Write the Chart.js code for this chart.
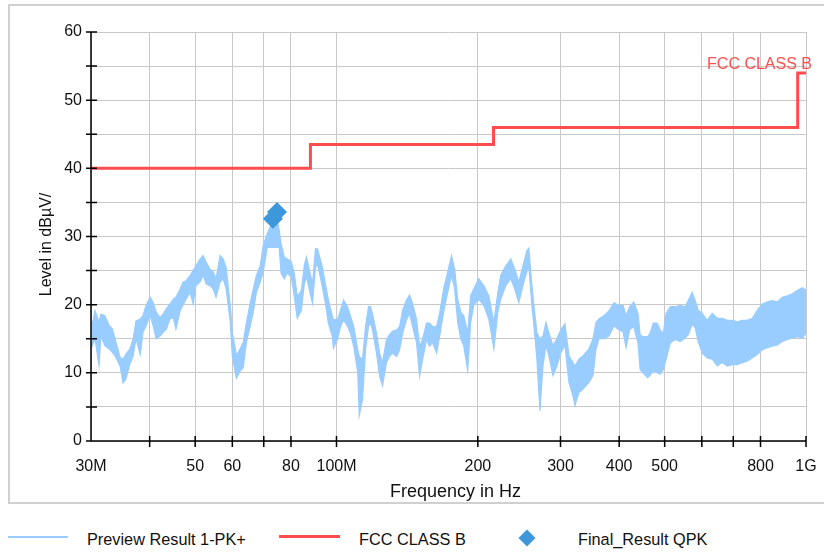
<!DOCTYPE html>
<html>
<head>
<meta charset="utf-8">
<script src="https://cdn.jsdelivr.net/npm/chart.js@4/dist/chart.umd.min.js"></script>
<style>
  body { margin: 0; background: #fff; font-family: "Liberation Sans", Arial, sans-serif; }
  #wrap { position: relative; width: 824px; height: 552px; overflow: hidden; }
  #frame { position: absolute; left: 8px; top: 4px; width: 840px; height: 500px; border: 2px solid #d0d0d0; box-sizing: border-box; }
  #box { position: absolute; left: 0; top: 0; width: 824px; height: 510px; }
  .leg { position: absolute; top: 529px; font-size: 16.3px; line-height: 20px; color: #111; white-space: nowrap; }
  .sw { position: absolute; }
</style>
</head>
<body>
<div id="wrap">
  <div id="frame"></div>
  <div id="box"><canvas id="chart"></canvas></div>
  <div class="sw" style="left:8px; top:536px; width:60px; height:1.5px; background:#99ccff;"></div>
  <div class="leg" style="left:87px;">Preview Result 1-PK+</div>
  <div class="sw" style="left:279px; top:535px; width:61px; height:3px; background:#ff4d4d;"></div>
  <div class="leg" style="left:359px;">FCC CLASS B</div>
  <div class="sw" style="left:521px; top:532px; width:12px; height:12px; background:#3d97da; transform:rotate(45deg);"></div>
  <div class="leg" style="left:578px;">Final_Result QPK</div>
</div>
<script>
// frequency in MHz
const freqs = [
  30.0, 30.6, 31.2, 31.5, 32.1, 32.8, 33.3, 33.75, 34.6, 35.1,
  35.6, 36.3, 36.9, 37.4, 38.2, 38.7, 39.3, 40.1, 40.7, 41.3,
  42.1, 42.7, 43.4, 44.2, 44.9, 45.5, 46.45, 47.1, 47.8, 48.8,
  49.5, 50.2, 51.2, 52.0, 52.8, 53.8, 54.6, 55.4, 56.5, 57.4,
  58.2, 59.4, 60.0, 60.9, 61.2, 62.4, 63.3, 64.3, 65.5, 66.5,
  67.5, 68.8, 69.8, 71.2, 72.6, 73.7, 74.8, 75.5, 76.2, 77.4,
  78.5, 80.1, 81.3, 82.5, 84.2, 85.4, 86.3, 87.6, 88.9, 90.2,
  91.1, 93.3, 94.7, 96.1, 98.0, 98.5, 100.5, 102.0, 103.5, 105.6,
  107.1, 108.8, 111.0, 111.8, 113.6, 115.3, 117.0, 118.1, 119.3, 121.7,
  123.5, 125.3, 127.8, 129.7, 131.6, 134.3, 136.3, 138.3, 141.0, 143.1,
  145.2, 148.1, 150.3, 152.5, 155.5, 157.8, 160.2, 163.4, 165.8, 169.1,
  172.5, 175.8, 178.5, 181.2, 183.9, 186.6, 190.3, 193.1, 196.0, 200.9,
  205.9, 211.0, 216.4, 220.6, 223.8, 229.4, 235.1, 239.7, 244.5, 250.6,
  254.3, 256.8, 260.7, 263.3, 267.2, 271.2, 275.3, 279.3, 283.4, 289.0,
  294.8, 300.6, 306.6, 312.7, 318.9, 322.0, 328.4, 335.0, 339.9, 345.0,
  351.8, 357.1, 362.4, 371.4, 380.6, 390.1, 397.9, 407.7, 413.8, 421.0,
  429.6, 438.7, 443.3, 449.9, 459.8, 465.5, 472.8, 482.0, 489.0, 496.5,
  503.6, 514.0, 526.4, 539.5, 552.9, 561.2, 572.2, 580.7, 589.4, 601.1,
  616.0, 631.4, 647.1, 663.1, 679.6, 696.5, 713.8, 731.6, 749.8, 768.5,
  787.7, 807.2, 827.3, 847.9, 869.0, 890.6, 912.8, 935.5, 958.8, 982.6,
  1000
];
// upper edge of the PK+ trace (dBµV)
const peakHigh = [
  16.2, 19.1, 17.5, 18.6, 18.4, 16.9, 16.5, 15.0, 12.3, 12.0,
  12.7, 13.5, 15.0, 17.6, 17.9, 18.4, 19.9, 21.1, 20.3, 18.9,
  18.1, 18.6, 19.4, 20.1, 20.8, 21.1, 22.3, 23.3, 23.5, 24.3,
  25.0, 25.7, 26.7, 27.2, 26.2, 25.2, 24.8, 23.8, 27.2, 26.7,
  25.5, 19.9, 15.9, 13.5, 12.5, 13.6, 14.5, 17.4, 20.3, 22.3,
  24.3, 25.7, 28.7, 30.4, 31.8, 32.3, 32.3, 30.9, 28.9, 27.0,
  26.7, 26.3, 24.6, 21.2, 22.1, 25.8, 27.0, 25.0, 23.1, 28.2,
  28.2, 25.5, 23.1, 20.7, 18.3, 17.8, 17.8, 19.2, 20.7, 19.7,
  18.3, 16.8, 13.4, 12.4, 11.9, 16.8, 19.7, 19.7, 18.7, 15.8,
  12.9, 11.5, 14.9, 15.6, 16.1, 16.3, 16.8, 19.2, 20.7, 21.4,
  20.2, 17.8, 13.9, 14.9, 17.3, 17.3, 16.8, 16.8, 18.7, 22.3,
  24.8, 27.2, 25.2, 20.8, 18.9, 18.4, 15.9, 21.3, 22.3, 23.8,
  22.8, 21.3, 17.4, 21.8, 24.3, 25.7, 26.7, 25.2, 23.3, 26.2,
  27.9, 28.3, 22.8, 19.9, 15.9, 15.0, 15.4, 17.4, 15.9, 14.0,
  15.0, 16.4, 17.2, 12.5, 11.5, 11.0, 12.0, 12.5, 13.0, 13.5,
  15.0, 17.4, 17.9, 18.4, 19.1, 20.3, 19.9, 19.9, 18.4, 19.7,
  20.4, 18.7, 15.6, 15.3, 15.3, 15.8, 17.3, 17.3, 16.3, 15.8,
  18.7, 19.7, 19.7, 19.9, 19.7, 20.6, 21.8, 20.6, 19.2, 18.7,
  17.7, 18.7, 18.0, 18.0, 17.7, 17.7, 17.5, 17.7, 17.7, 18.0,
  19.2, 20.1, 20.4, 20.6, 20.4, 21.1, 21.3, 21.6, 22.1, 22.5,
  22.1
];
// lower edge of the PK+ trace (dBµV)
const peakLow = [
  13.5, 15.0, 11.1, 15.4, 14.0, 13.5, 13.0, 12.5, 11.0, 8.5,
  9.1, 11.3, 12.5, 15.0, 12.7, 15.9, 16.9, 18.4, 16.9, 15.0,
  15.4, 15.9, 16.4, 17.9, 18.1, 16.4, 19.1, 19.9, 20.8, 21.8,
  20.1, 22.8, 23.3, 24.3, 23.0, 22.8, 22.3, 21.1, 23.3, 23.8,
  22.3, 17.4, 12.5, 10.0, 9.2, 10.3, 10.8, 14.5, 16.9, 18.9,
  21.8, 23.3, 24.8, 28.4, 28.4, 28.4, 28.4, 28.4, 24.6, 23.8,
  24.6, 24.1, 21.2, 18.0, 19.2, 23.1, 24.1, 22.1, 20.2, 25.5,
  26.0, 22.6, 20.2, 17.3, 15.3, 13.6, 14.9, 16.8, 17.8, 16.8,
  15.8, 13.9, 10.0, 3.7, 6.1, 13.4, 16.8, 17.3, 16.3, 12.9,
  9.5, 8.1, 11.5, 12.4, 12.9, 12.4, 13.4, 15.8, 17.8, 18.7,
  16.8, 14.4, 9.5, 11.9, 14.9, 13.9, 14.4, 12.9, 15.3, 18.9,
  21.8, 24.3, 22.3, 17.4, 15.0, 14.0, 10.3, 17.4, 19.9, 20.8,
  19.9, 17.9, 13.5, 18.9, 20.8, 22.8, 23.8, 22.3, 20.3, 23.3,
  24.8, 25.7, 19.9, 16.9, 12.0, 4.4, 11.0, 14.0, 12.5, 9.6,
  11.0, 13.0, 14.0, 8.6, 6.6, 5.2, 7.1, 7.6, 8.1, 8.6,
  9.6, 13.5, 15.0, 15.0, 15.4, 16.9, 16.4, 16.0, 13.7, 16.3,
  16.8, 14.4, 10.5, 10.0, 9.3, 9.6, 10.3, 10.0, 9.8, 10.5,
  12.0, 14.4, 14.9, 14.6, 15.1, 15.6, 17.1, 16.6, 14.6, 12.9,
  12.2, 12.0, 11.0, 11.5, 11.0, 11.2, 11.2, 11.5, 11.7, 12.2,
  12.7, 13.4, 13.7, 13.9, 14.1, 14.6, 14.9, 15.1, 15.3, 15.1,
  15.8
];

const limitFreqs = [30, 88, 88, 216, 216, 960, 960, 1000];
const limitLevels = [40, 40, 43.5, 43.5, 46, 46, 54, 54];

const qpkFreqs = [73.2, 74.7];
const qpkLevels = [32.6, 33.6];

const tickVals = [30, 40, 50, 60, 70, 80, 100, 200, 300, 400, 500, 600, 700, 800, 1000];
const tickLabels = ["30M", "", "50", "60", "", "80", "100M", "200", "300", "400", "500", "", "", "800", "1G"];

const FONT = '"Liberation Sans", Arial, sans-serif';
const ctx = document.getElementById("chart").getContext("2d");

const axisDeco = {
  id: "axisDeco",
  afterDraw(chart) {
    const { ctx, chartArea: a, scales } = chart;
    const x = scales.x, y = scales.y;
    ctx.save();
    ctx.strokeStyle = "#000";
    ctx.lineWidth = 1.5;
    ctx.beginPath();
    ctx.moveTo(a.left, a.top);
    ctx.lineTo(a.left, a.bottom);
    ctx.lineTo(a.right, a.bottom);
    y.ticks.forEach((t) => {
      const py = y.getPixelForValue(t.value);
      ctx.moveTo(a.left - 5, py);
      ctx.lineTo(a.left + 6, py);
    });
    x.ticks.forEach((t) => {
      if (t.value === 30) return;
      const px = x.getPixelForValue(t.value);
      ctx.moveTo(px, a.bottom - 5);
      ctx.lineTo(px, a.bottom + 6);
    });
    ctx.stroke();

    ctx.fillStyle = "#111";
    ctx.textAlign = "center";
    ctx.textBaseline = "middle";
    ctx.font = "18px " + FONT;
    ctx.fillText("Frequency in Hz", (a.left + a.right) / 2 + 7, 492);
    ctx.font = "16px " + FONT;
    ctx.save();
    ctx.translate(47, (a.top + a.bottom) / 2 + 8);
    ctx.rotate(-Math.PI / 2);
    ctx.fillText("Level in dBµV/", 0, 0);
    ctx.restore();

    ctx.fillStyle = "#ff4d4d";
    ctx.textAlign = "right";
    ctx.fillText("FCC CLASS B", a.right + 6, y.getPixelForValue(54) - 8);
    ctx.restore();
  },
};

new Chart(ctx, {
  type: "line",
  data: {
    datasets: [
      {
        label: "FCC CLASS B",
        data: limitFreqs.map((f, i) => ({ x: f, y: limitLevels[i] })),
        borderColor: "#ff4d4d",
        borderWidth: 3,
        pointRadius: 0,
        fill: false,
        order: 1,
      },
      {
        label: "Final_Result QPK",
        data: qpkFreqs.map((f, i) => ({ x: f, y: qpkLevels[i] })),
        showLine: false,
        pointStyle: "rectRot",
        pointRadius: 10,
        backgroundColor: "#3d97da",
        borderColor: "#3d97da",
        borderWidth: 0,
        order: 0,
      },
      {
        label: "Preview Result 1-PK+",
        data: freqs.map((f, i) => ({ x: f, y: peakHigh[i] })),
        borderColor: "#99ccff",
        backgroundColor: "#99ccff",
        borderWidth: 1.2,
        pointRadius: 0,
        fill: "+1",
        order: 2,
      },
      {
        label: "Preview Result 1-PK+ low",
        data: freqs.map((f, i) => ({ x: f, y: peakLow[i] })),
        borderColor: "#99ccff",
        borderWidth: 1.2,
        pointRadius: 0,
        fill: false,
        order: 3,
      },
    ],
  },
  options: {
    responsive: true,
    maintainAspectRatio: false,
    animation: false,
    layout: { padding: { left: 0, top: 32, right: 18, bottom: 0 } },
    plugins: { legend: { display: false }, tooltip: { enabled: false } },
    scales: {
      x: {
        type: "logarithmic",
        min: 30,
        max: 1000,
        afterBuildTicks: (scale) => {
          scale.ticks = tickVals.map((v) => ({ value: v }));
        },
        afterFit: (scale) => {
          scale.height = 69;
          scale.paddingLeft = 0;
          scale.paddingRight = 0;
        },
        grid: { color: "#c8c8c8", lineWidth: 1, drawTicks: false },
        border: { display: false },
        ticks: {
          autoSkip: false,
          maxRotation: 0,
          padding: 16,
          color: "#111",
          font: { family: FONT, size: 16 },
          callback: (v, i) => tickLabels[i],
        },
      },
      y: {
        min: 0,
        max: 60,
        afterFit: (scale) => {
          scale.width = 91;
        },
        grid: { color: "#c8c8c8", lineWidth: 1, drawTicks: false },
        border: { display: false },
        ticks: {
          stepSize: 5,
          padding: 9,
          color: "#111",
          font: { family: FONT, size: 16 },
          callback: (v) => (v % 10 === 0 ? String(v) : ""),
        },
      },
    },
  },
  plugins: [axisDeco],
});
</script>
</body>
</html>
